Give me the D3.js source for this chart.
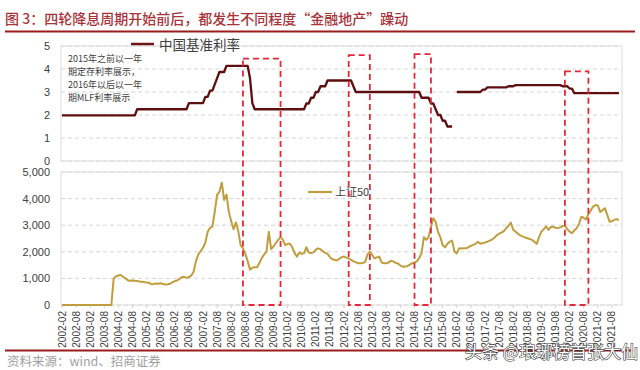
<!DOCTYPE html>
<html><head><meta charset="utf-8">
<script src="https://cdn.jsdelivr.net/npm/d3@7"></script>
<style>
html,body{margin:0;padding:0;background:#fff;}
svg{display:block;}
</style></head>
<body>
<svg id="chart" width="640" height="370"></svg>
<script>
// ---------- DATA ----------
const startMonth = "2002-02";
// China benchmark rate (1y deposit before 2015, 1y MLF from 2016), monthly, 2002-02 .. 2021-11
const rateValues = [
  1.98,1.98,1.98,1.98,1.98,1.98,1.98,1.98,1.98,1.98,1.98,                 // 2002 Feb-Dec
  1.98,1.98,1.98,1.98,1.98,1.98,1.98,1.98,1.98,1.98,1.98,1.98,            // 2003
  1.98,1.98,1.98,1.98,1.98,1.98,1.98,1.98,1.98,2.25,2.25,2.25,            // 2004
  2.25,2.25,2.25,2.25,2.25,2.25,2.25,2.25,2.25,2.25,2.25,2.25,            // 2005
  2.25,2.25,2.25,2.25,2.25,2.25,2.25,2.52,2.52,2.52,2.52,2.52,            // 2006
  2.52,2.52,2.79,2.79,3.06,3.06,3.33,3.60,3.87,3.87,3.87,4.14,            // 2007
  4.14,4.14,4.14,4.14,4.14,4.14,4.14,4.14,4.14,3.60,2.52,2.25,            // 2008
  2.25,2.25,2.25,2.25,2.25,2.25,2.25,2.25,2.25,2.25,2.25,2.25,            // 2009
  2.25,2.25,2.25,2.25,2.25,2.25,2.25,2.25,2.25,2.50,2.50,2.75,            // 2010
  2.75,3.00,3.00,3.25,3.25,3.25,3.50,3.50,3.50,3.50,3.50,3.50,            // 2011
  3.50,3.50,3.50,3.50,3.50,3.25,3.00,3.00,3.00,3.00,3.00,3.00,            // 2012
  3.00,3.00,3.00,3.00,3.00,3.00,3.00,3.00,3.00,3.00,3.00,3.00,            // 2013
  3.00,3.00,3.00,3.00,3.00,3.00,3.00,3.00,3.00,3.00,2.75,2.75,            // 2014
  2.75,2.75,2.50,2.50,2.25,2.00,2.00,1.75,1.75,1.50,1.50,1.50,            // 2015
  null,3.00,3.00,3.00,3.00,3.00,3.00,3.00,3.00,3.00,3.00,3.00,            // 2016
  3.10,3.10,3.20,3.20,3.20,3.20,3.20,3.20,3.20,3.20,3.20,3.25,            // 2017
  3.25,3.25,3.30,3.30,3.30,3.30,3.30,3.30,3.30,3.30,3.30,3.30,            // 2018
  3.30,3.30,3.30,3.30,3.30,3.30,3.30,3.30,3.30,3.30,3.25,3.25,            // 2019
  3.25,3.15,3.15,2.95,2.95,2.95,2.95,2.95,2.95,2.95,2.95,2.95,            // 2020
  2.95,2.95,2.95,2.95,2.95,2.95,2.95,2.95,2.95,2.95,2.95                  // 2021 Jan-Nov
];
// SSE 50 index, monthly, 2002-02 .. 2021-11
const sse50Values = [
  0,0,0,0,0,0,0,0,0,0,0,                                                  // 2002 Feb-Dec
  0,0,0,0,0,0,0,0,0,0,0,1000,                                             // 2003
  1080,1110,1130,1060,1000,930,915,920,915,900,880,870,                   // 2004
  860,850,840,780,790,810,800,820,790,770,780,800,                        // 2005
  850,900,920,980,1050,1050,1020,1050,1100,1250,1650,1900,                // 2006
  2020,2150,2350,2750,2900,2950,3500,4140,4260,4600,3950,4150,            // 2007
  3500,3150,2850,3100,2780,2250,2130,1930,1650,1330,1400,1420,            // 2008
  1420,1580,1760,1900,2000,2750,2100,2200,2330,2450,2550,2450,            // 2009
  2250,2300,2300,2170,1950,1820,1970,1920,1950,2170,1970,1950,            // 2010
  1980,2080,2130,2100,2020,1960,1920,1800,1720,1700,1670,1740,            // 2011
  1800,1820,1780,1750,1700,1640,1610,1570,1570,1580,1620,1900,            // 2012
  2010,1880,1750,1790,1820,1600,1570,1570,1600,1660,1640,1580,            // 2013
  1560,1480,1440,1450,1460,1520,1570,1600,1640,1760,1950,2550,            // 2014
  2450,2560,2950,3260,3130,2750,2550,2250,2170,2300,2380,2420,            // 2015
  2010,1940,2130,2120,2130,2130,2180,2220,2260,2300,2380,2300,            // 2016
  2330,2350,2380,2420,2460,2530,2620,2680,2720,2780,2880,2980,            // 2017
  3100,2830,2760,2680,2620,2580,2540,2510,2480,2450,2380,2300,            // 2018
  2550,2760,2850,2950,2820,2930,2950,2900,2890,2920,2960,2990,            // 2019
  2850,2760,2700,2800,2890,3050,3320,3280,3220,3420,3550,3700,            // 2020
  3760,3740,3500,3560,3640,3400,3130,3150,3200,3230,3190                  // 2021 Jan-Nov
];
const tickLabels = [
  "2002-02","2002-08","2003-02","2003-08","2004-02","2004-08","2005-02","2005-08",
  "2006-02","2006-08","2007-02","2007-08","2008-02","2008-08","2009-02","2009-08",
  "2010-02","2010-08","2011-02","2011-08","2012-02","2012-08","2013-02","2013-08",
  "2014-02","2014-08","2015-02","2015-08","2016-02","2016-08","2017-02","2017-08",
  "2018-02","2018-08","2019-02","2019-08","2020-02","2020-08","2021-02","2021-08"
];
const rateTicks = [0,1,2,3,4,5];
const sseTicks = [0,1000,2000,3000,4000,5000];
// highlighted easing-cycle windows
const boxStart = ["2008-07","2012-04","2014-08","2019-12"];
const boxEnd   = ["2009-11","2013-01","2015-03","2020-10"];
const boxTop   = [4.45, 4.6, 4.65, 3.9];   // in rate-axis units

const titleText = "图 3：四轮降息周期开始前后，都发生不同程度“金融地产”躁动";
const rateName = "中国基准利率";
const sseName = "上证50";
const noteLines = ["2015年之前以一年","期定存利率展示，","2016年以后以一年","期MLF利率展示"];
const sourceText = "资料来源：wind、招商证券";
const watermark = "头条 @琅琊榜首张大仙";

// ---------- HELPERS ----------
const parseM = d3.timeParse("%Y-%m");
const fmtM = d3.timeFormat("%Y-%m");
const t0 = parseM(startMonth);
const idxOf = m => d3.timeMonth.count(t0, parseM(m));

const svg = d3.select("#chart");
const CJK = "'Noto Sans CJK SC','Noto Sans',sans-serif";
const LAT = "'Liberation Sans',Arial,sans-serif";

const x = d3.scaleLinear().domain([0, 238]).range([62, 621.3]);
const plotL = 61, plotR = 622;
const yR = d3.scaleLinear().domain([0,5]).range([161,46]);
const yS = d3.scaleLinear().domain([0,5000]).range([305,172]);

// ---------- TITLE ----------
svg.append("text").attr("x",5).attr("y",24)
  .attr("font-family",CJK).attr("font-size",14).attr("font-weight",500)
  .attr("fill","#a8323a").text(titleText);
svg.append("line").attr("x1",5).attr("x2",635).attr("y1",31.5).attr("y2",31.5)
  .attr("stroke","#9b1c1c").attr("stroke-width",2.2);

// ---------- FRAMES & GRIDS ----------
function panel(y, ticks, fmt) {
  const g = svg.append("g");
  g.selectAll("line.grid").data(ticks).join("line")
    .attr("x1",plotL).attr("x2",plotR)
    .attr("y1",d=>y(d)).attr("y2",d=>y(d))
    .attr("stroke","#d6d6d6").attr("stroke-width",1).attr("stroke-dasharray","4,3");
  g.append("rect").attr("x",plotL).attr("y",y.range()[1])
    .attr("width",plotR-plotL).attr("height",y.range()[0]-y.range()[1])
    .attr("fill","none").attr("stroke","#dcdcdc").attr("stroke-width",1);
  const ax = svg.append("g").attr("transform","translate(50,0)")
    .call(d3.axisLeft(y).tickValues(ticks).tickSize(0).tickPadding(0).tickFormat(fmt));
  ax.select(".domain").remove();
  ax.selectAll("text").attr("font-family",LAT).attr("font-size",11).attr("fill","#404040");
}
panel(yR, rateTicks, d3.format("d"));
panel(yS, sseTicks, d3.format(","));

// ---------- X AXIS ----------
const tickIdx = tickLabels.map(idxOf);
const xa = svg.append("g");
xa.selectAll("line").data(tickIdx).join("line")
  .attr("x1",d=>x(d)).attr("x2",d=>x(d)).attr("y1",305).attr("y2",308)
  .attr("stroke","#d0d0d0");
xa.selectAll("text").data(tickLabels).join("text")
  .attr("transform",(d,i)=>`translate(${x(tickIdx[i])},311) rotate(-90)`)
  .attr("text-anchor","end").attr("dy","0.35em")
  .attr("font-family",LAT).attr("font-size",10).attr("fill","#404040")
  .text(d=>d);

// ---------- LINES ----------
const rateData = rateValues.map((v,i)=>({i,v}));
const sseData = sse50Values.map((v,i)=>({i,v}));
svg.append("path").datum(rateData)
  .attr("d", d3.line().defined(d=>d.v!=null).x(d=>x(d.i)).y(d=>yR(d.v)))
  .attr("fill","none").attr("stroke","#5e1010").attr("stroke-width",2.3)
  .attr("stroke-linejoin","round");
svg.append("path").datum(sseData)
  .attr("d", d3.line().x(d=>x(d.i)).y(d=>yS(d.v)))
  .attr("fill","none").attr("stroke","#bf9e3e").attr("stroke-width",2)
  .attr("stroke-linejoin","round");

// ---------- LEGENDS / NOTES ----------
svg.append("line").attr("x1",131).attr("x2",154).attr("y1",44).attr("y2",44)
  .attr("stroke","#6e1414").attr("stroke-width",2.5);
svg.append("text").attr("x",159).attr("y",49.5).attr("font-family",CJK)
  .attr("font-size",13.5).attr("fill","#404040").text(rateName);

svg.append("line").attr("x1",308).attr("x2",332).attr("y1",192).attr("y2",192)
  .attr("stroke","#bf9e3e").attr("stroke-width",2.2);
svg.append("text").attr("x",335).attr("y",196).attr("font-family",CJK)
  .attr("font-size",11).attr("fill","#404040").text(sseName);

svg.append("g").selectAll("text").data(noteLines).join("text")
  .attr("x",68).attr("y",(d,i)=>62+i*13)
  .attr("font-family",CJK).attr("font-size",9).attr("fill","#404040")
  .text(d=>d);

// ---------- HIGHLIGHT BOXES ----------
svg.append("g").selectAll("rect").data(boxStart).join("rect")
  .attr("x",(d)=>x(idxOf(d)))
  .attr("y",(d,i)=>yR(boxTop[i]))
  .attr("width",(d,i)=>x(idxOf(boxEnd[i]))-x(idxOf(d)))
  .attr("height",(d,i)=>yS(0)-yR(boxTop[i]))
  .attr("fill","none").attr("stroke","#e3283a").attr("stroke-width",1.8)
  .attr("stroke-dasharray","6,4");

// ---------- FOOTER ----------
svg.append("line").attr("x1",5).attr("x2",633).attr("y1",350.5).attr("y2",350.5)
  .attr("stroke","#9b1c1c").attr("stroke-width",1.8);
svg.append("text").attr("x",7).attr("y",366).attr("font-family",CJK)
  .attr("font-size",12.5).attr("fill","#a0a0a0").text(sourceText);
svg.append("text").attr("x",465).attr("y",358).attr("font-family",CJK)
  .attr("font-size",17).attr("fill","#fff").attr("stroke","#333")
  .attr("stroke-width",1.1).attr("paint-order","stroke").text(watermark);
</script>
</body></html>
